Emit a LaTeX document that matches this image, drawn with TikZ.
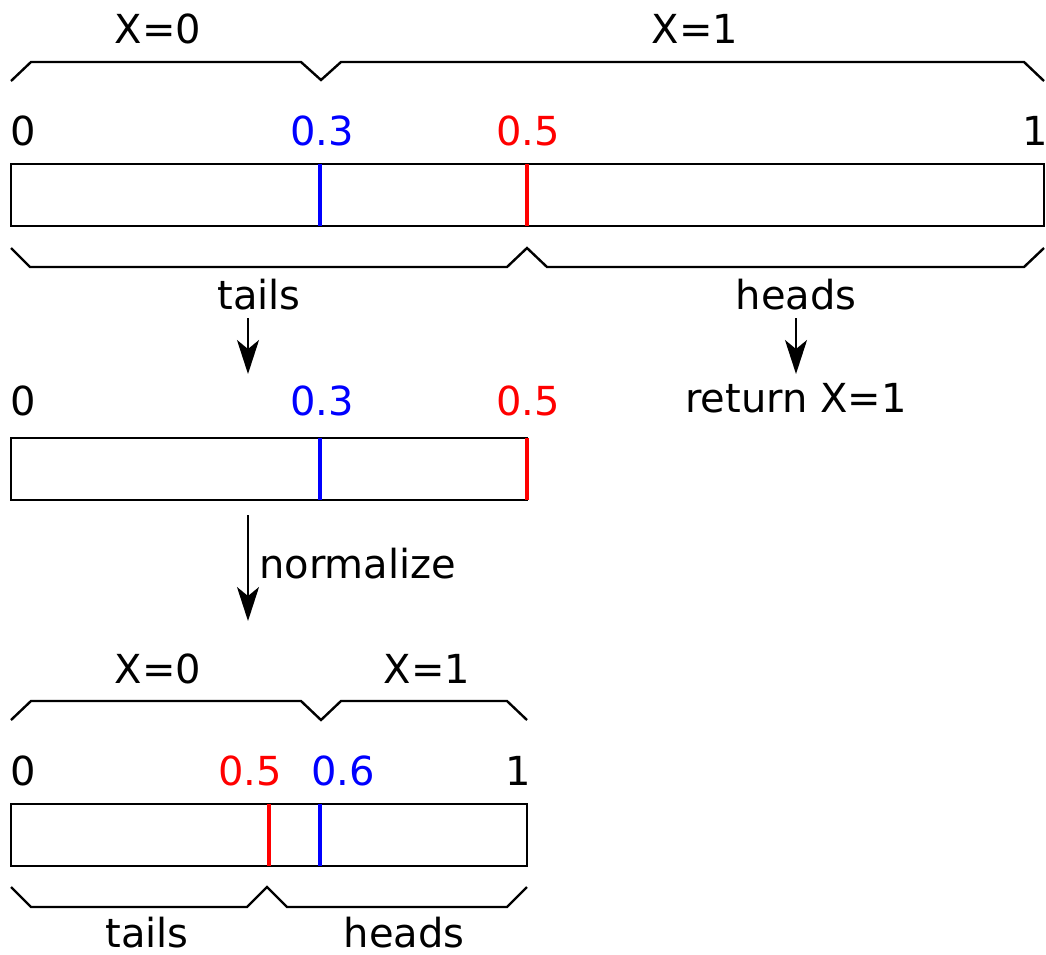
\documentclass[tikz,border=0pt]{standalone}
\usepackage{fontspec}
\setmainfont{DejaVu Sans}
\usetikzlibrary{arrows.meta}
\tikzset{
  lbl/.style={anchor=base, inner sep=0pt, font=\fontsize{40}{48}\selectfont},
  bar/.style={draw=black, line width=2pt},
  brace/.style={draw=black, line width=2.4pt, line join=miter},
  mark3/.style={line width=4.5pt, blue},
  mark5/.style={line width=4.5pt, red},
  flow/.style={draw=black, line width=2pt, -{Stealth[length=34pt, width=22pt, inset=9pt]}}
}
\begin{document}
\begin{tikzpicture}[x=1pt, y=-1pt]
\useasboundingbox (0,0) rectangle (1046,954);

% ---- full interval [0,1] ----
\draw[brace] (11,81) -- (31,62) -- (301,62) -- (321,80) -- (341,62) -- (1024,62) -- (1044,81);
\node[lbl] (xa0) at (158,43) {X=0};
\node[lbl] (xa1) at (695,43) {X=1};
\node[lbl] (a0) at (23,145) {0};
\node[lbl, blue] (a3) at (322,145) {0.3};
\node[lbl, red] (a5) at (528,145) {0.5};
\node[lbl] (a1) at (1035,145) {1};
\draw[bar] (11,164) rectangle (1044,226);
\draw[mark3] (320,164) -- (320,226);
\draw[mark5] (527,164) -- (527,226);
\draw[brace] (11,248) -- (30,267) -- (507,267) -- (527,248) -- (547,267) -- (1024,267) -- (1044,248);
\node[lbl] (tailsA) at (259,309) {tails};
\node[lbl] (headsA) at (796,309) {heads};
\node[lbl] (ret) at (796,412) {return X=1};
\coordinate (tailsEnd) at (248,374);
\draw[flow] (248,318) -- (tailsEnd);
\draw[flow] (headsA.south |- 0,318) -- (ret.north |- 0,374);

% ---- interval [0,0.5] ----
\node[lbl] (b0) at (23,415) {0};
\node[lbl, blue] (b3) at (322,415) {0.3};
\node[lbl, red] (b5) at (528,415) {0.5};
\draw[bar] (11,438) rectangle (527,500);
\draw[mark3] (320,438) -- (320,500);
\draw[mark5] (527,438) -- (527,500);
\coordinate (normTop) at (248,515);
\coordinate (normEnd) at (248,621);
\draw[flow] (normTop) -- (normEnd);
\node[lbl, anchor=base west] (norm) at (259,578) {normalize};

% ---- rescaled interval ----
\draw[brace] (11,720) -- (31,701) -- (301,701) -- (321,720) -- (341,701) -- (507,701) -- (527,720);
\node[lbl] (xc0) at (158,683) {X=0};
\node[lbl] (xc1) at (427,683) {X=1};
\node[lbl] (c0) at (23,785) {0};
\node[lbl, red] (c5) at (250,785) {0.5};
\node[lbl, blue] (c6) at (343,785) {0.6};
\node[lbl] (c1) at (518,785) {1};
\draw[bar] (11,804) rectangle (527,866);
\draw[mark5] (269,804) -- (269,866);
\draw[mark3] (320,804) -- (320,866);
\draw[brace] (11,887) -- (31,907) -- (247,907) -- (267,887) -- (287,907) -- (507,907) -- (527,887);
\node[lbl] (tailsC) at (147,947) {tails};
\node[lbl] (headsC) at (404,947) {heads};
\end{tikzpicture}
\end{document}
